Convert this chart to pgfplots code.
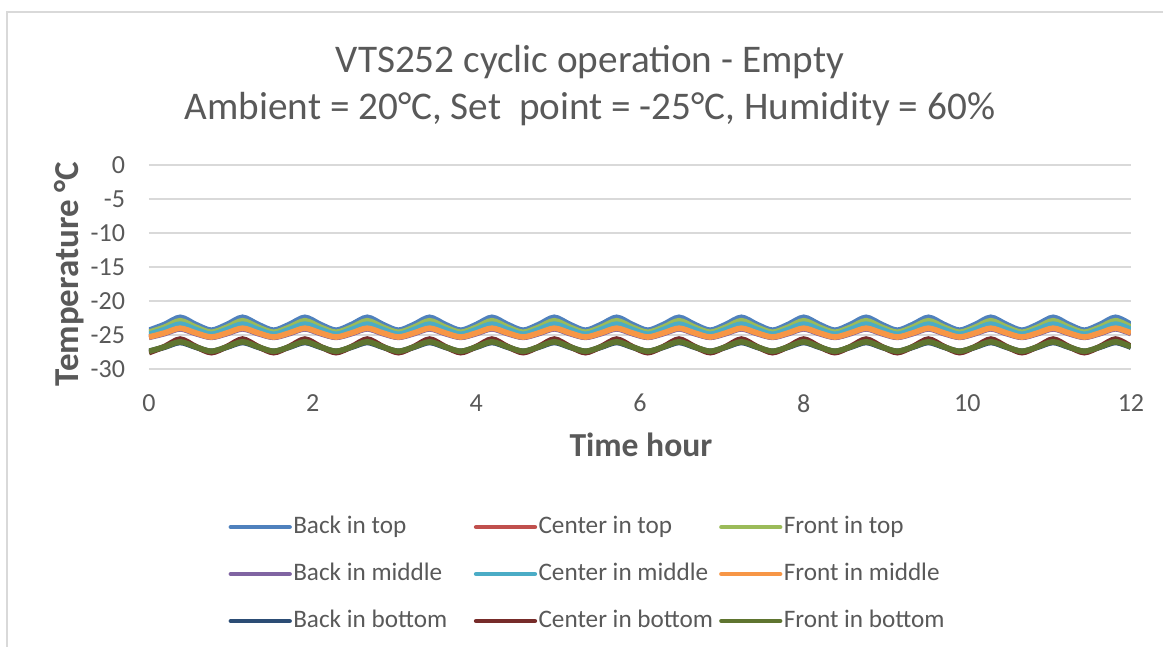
\documentclass[border=0pt]{standalone}
\usepackage{pgfplots}
\pgfplotsset{compat=1.18}
\usepackage{pgfplotstable}
\usepackage{fontspec}
\setmainfont{Carlito}

\definecolor{txt}{HTML}{595959}
\definecolor{gridc}{HTML}{D9D9D9}
\definecolor{c1}{HTML}{4F81BD}
\definecolor{c2}{HTML}{C0504D}
\definecolor{c3}{HTML}{9BBB59}
\definecolor{c4}{HTML}{8064A2}
\definecolor{c5}{HTML}{4BACC6}
\definecolor{c6}{HTML}{F79646}
\definecolor{c7}{HTML}{2C4D75}
\definecolor{c8}{HTML}{772C2A}
\definecolor{c9}{HTML}{5F7530}

% time in hours, temperatures in degC
\pgfplotstableread{
t      bt     ct     ft     bm     cm     fm     bb     cb     fb
0.000  -24.30 -25.30 -24.60 -25.35 -24.90 -25.30 -27.40 -27.60 -27.40
0.190  -23.45 -24.70 -23.85 -24.80 -24.20 -24.70 -26.80 -26.70 -26.75
0.381  -22.40 -24.00 -22.90 -24.10 -23.40 -24.00 -26.10 -25.60 -26.00
0.572  -23.45 -24.70 -23.85 -24.80 -24.20 -24.70 -26.80 -26.70 -26.75
0.762  -24.30 -25.30 -24.60 -25.35 -24.90 -25.30 -27.40 -27.60 -27.40
0.953  -23.45 -24.70 -23.85 -24.80 -24.20 -24.70 -26.80 -26.70 -26.75
1.143  -22.40 -24.00 -22.90 -24.10 -23.40 -24.00 -26.10 -25.60 -26.00
1.334  -23.45 -24.70 -23.85 -24.80 -24.20 -24.70 -26.80 -26.70 -26.75
1.524  -24.30 -25.30 -24.60 -25.35 -24.90 -25.30 -27.40 -27.60 -27.40
1.715  -23.45 -24.70 -23.85 -24.80 -24.20 -24.70 -26.80 -26.70 -26.75
1.905  -22.40 -24.00 -22.90 -24.10 -23.40 -24.00 -26.10 -25.60 -26.00
2.096  -23.45 -24.70 -23.85 -24.80 -24.20 -24.70 -26.80 -26.70 -26.75
2.286  -24.30 -25.30 -24.60 -25.35 -24.90 -25.30 -27.40 -27.60 -27.40
2.477  -23.45 -24.70 -23.85 -24.80 -24.20 -24.70 -26.80 -26.70 -26.75
2.667  -22.40 -24.00 -22.90 -24.10 -23.40 -24.00 -26.10 -25.60 -26.00
2.858  -23.45 -24.70 -23.85 -24.80 -24.20 -24.70 -26.80 -26.70 -26.75
3.048  -24.30 -25.30 -24.60 -25.35 -24.90 -25.30 -27.40 -27.60 -27.40
3.239  -23.45 -24.70 -23.85 -24.80 -24.20 -24.70 -26.80 -26.70 -26.75
3.429  -22.40 -24.00 -22.90 -24.10 -23.40 -24.00 -26.10 -25.60 -26.00
3.620  -23.45 -24.70 -23.85 -24.80 -24.20 -24.70 -26.80 -26.70 -26.75
3.810  -24.30 -25.30 -24.60 -25.35 -24.90 -25.30 -27.40 -27.60 -27.40
4.001  -23.45 -24.70 -23.85 -24.80 -24.20 -24.70 -26.80 -26.70 -26.75
4.191  -22.40 -24.00 -22.90 -24.10 -23.40 -24.00 -26.10 -25.60 -26.00
4.382  -23.45 -24.70 -23.85 -24.80 -24.20 -24.70 -26.80 -26.70 -26.75
4.572  -24.30 -25.30 -24.60 -25.35 -24.90 -25.30 -27.40 -27.60 -27.40
4.763  -23.45 -24.70 -23.85 -24.80 -24.20 -24.70 -26.80 -26.70 -26.75
4.953  -22.40 -24.00 -22.90 -24.10 -23.40 -24.00 -26.10 -25.60 -26.00
5.144  -23.45 -24.70 -23.85 -24.80 -24.20 -24.70 -26.80 -26.70 -26.75
5.334  -24.30 -25.30 -24.60 -25.35 -24.90 -25.30 -27.40 -27.60 -27.40
5.525  -23.45 -24.70 -23.85 -24.80 -24.20 -24.70 -26.80 -26.70 -26.75
5.715  -22.40 -24.00 -22.90 -24.10 -23.40 -24.00 -26.10 -25.60 -26.00
5.906  -23.45 -24.70 -23.85 -24.80 -24.20 -24.70 -26.80 -26.70 -26.75
6.096  -24.30 -25.30 -24.60 -25.35 -24.90 -25.30 -27.40 -27.60 -27.40
6.287  -23.45 -24.70 -23.85 -24.80 -24.20 -24.70 -26.80 -26.70 -26.75
6.477  -22.40 -24.00 -22.90 -24.10 -23.40 -24.00 -26.10 -25.60 -26.00
6.668  -23.45 -24.70 -23.85 -24.80 -24.20 -24.70 -26.80 -26.70 -26.75
6.858  -24.30 -25.30 -24.60 -25.35 -24.90 -25.30 -27.40 -27.60 -27.40
7.049  -23.45 -24.70 -23.85 -24.80 -24.20 -24.70 -26.80 -26.70 -26.75
7.239  -22.40 -24.00 -22.90 -24.10 -23.40 -24.00 -26.10 -25.60 -26.00
7.430  -23.45 -24.70 -23.85 -24.80 -24.20 -24.70 -26.80 -26.70 -26.75
7.620  -24.30 -25.30 -24.60 -25.35 -24.90 -25.30 -27.40 -27.60 -27.40
7.811  -23.45 -24.70 -23.85 -24.80 -24.20 -24.70 -26.80 -26.70 -26.75
8.001  -22.40 -24.00 -22.90 -24.10 -23.40 -24.00 -26.10 -25.60 -26.00
8.192  -23.45 -24.70 -23.85 -24.80 -24.20 -24.70 -26.80 -26.70 -26.75
8.382  -24.30 -25.30 -24.60 -25.35 -24.90 -25.30 -27.40 -27.60 -27.40
8.573  -23.45 -24.70 -23.85 -24.80 -24.20 -24.70 -26.80 -26.70 -26.75
8.763  -22.40 -24.00 -22.90 -24.10 -23.40 -24.00 -26.10 -25.60 -26.00
8.954  -23.45 -24.70 -23.85 -24.80 -24.20 -24.70 -26.80 -26.70 -26.75
9.144  -24.30 -25.30 -24.60 -25.35 -24.90 -25.30 -27.40 -27.60 -27.40
9.335  -23.45 -24.70 -23.85 -24.80 -24.20 -24.70 -26.80 -26.70 -26.75
9.525  -22.40 -24.00 -22.90 -24.10 -23.40 -24.00 -26.10 -25.60 -26.00
9.716  -23.45 -24.70 -23.85 -24.80 -24.20 -24.70 -26.80 -26.70 -26.75
9.906  -24.30 -25.30 -24.60 -25.35 -24.90 -25.30 -27.40 -27.60 -27.40
10.097 -23.45 -24.70 -23.85 -24.80 -24.20 -24.70 -26.80 -26.70 -26.75
10.287 -22.40 -24.00 -22.90 -24.10 -23.40 -24.00 -26.10 -25.60 -26.00
10.478 -23.45 -24.70 -23.85 -24.80 -24.20 -24.70 -26.80 -26.70 -26.75
10.668 -24.30 -25.30 -24.60 -25.35 -24.90 -25.30 -27.40 -27.60 -27.40
10.859 -23.45 -24.70 -23.85 -24.80 -24.20 -24.70 -26.80 -26.70 -26.75
11.049 -22.40 -24.00 -22.90 -24.10 -23.40 -24.00 -26.10 -25.60 -26.00
11.240 -23.45 -24.70 -23.85 -24.80 -24.20 -24.70 -26.80 -26.70 -26.75
11.430 -24.30 -25.30 -24.60 -25.35 -24.90 -25.30 -27.40 -27.60 -27.40
11.621 -23.45 -24.70 -23.85 -24.80 -24.20 -24.70 -26.80 -26.70 -26.75
11.811 -22.40 -24.00 -22.90 -24.10 -23.40 -24.00 -26.10 -25.60 -26.00
12.000 -23.45 -24.70 -23.85 -24.80 -24.20 -24.70 -26.80 -26.70 -26.75
}\cycdata

\begin{document}
\begin{tikzpicture}
\useasboundingbox (0,0) rectangle (415.36pt,231.07pt);
% chart area frame
\draw[gridc, line width=0.6pt] (2.5pt,-20pt) -- (2.5pt,226.8pt) -- (440pt,226.8pt);

\node[text=txt, font=\fontsize{14}{16.8}\selectfont] at (210.7pt,209.0pt) {VTS252 cyclic operation - Empty};
\node[text=txt, font=\fontsize{14}{16.8}\selectfont] at (210.7pt,192.0pt) {Ambient = 20°C, Set\ \ point = -25°C, Humidity = 60\%};

\begin{axis}[
    at={(53.21pt,99.29pt)}, anchor=south west,
    scale only axis,
    width=350.71pt, height=72.86pt,
    xmin=0, xmax=12, ymin=-30, ymax=0,
    xtick={0,2,...,12}, ytick={-30,-25,...,0},
    axis line style={draw=none},
    major tick length=0pt,
    ymajorgrids,
    grid style={gridc, line width=0.7pt},
    /pgf/number format/assume math mode=true,
    tick label style={font=\fontsize{9.3}{11}\selectfont, text=txt},
    xticklabel style={yshift=-5.5pt},
    yticklabel style={xshift=-5pt},
    every axis plot/.append style={line width=2pt, smooth},
    legend columns=3,
    legend style={at={(0.0805,-1.005)}, anchor=west, draw=none, fill=none,
        font=\fontsize{9}{10.8}\selectfont, text=txt,
        inner sep=0pt, row sep=8pt,
        nodes={inner sep=0.5pt}, cells={anchor=west}},
    legend image code/.code={\draw[#1, line width=1.6pt, line cap=round] (0pt,0pt) -- (21pt,0pt);},
]
\addplot[c1] table[x=t, y=bt] {\cycdata};
\addlegendentry{\makebox[64pt][l]{Back in top}}
\addplot[c2] table[x=t, y=ct] {\cycdata};
\addlegendentry{\makebox[64pt][l]{Center in top}}
\addplot[c3] table[x=t, y=ft] {\cycdata};
\addlegendentry{\makebox[64pt][l]{Front in top}}
\addplot[c4] table[x=t, y=bm] {\cycdata};
\addlegendentry{\makebox[64pt][l]{Back in middle}}
\addplot[c5] table[x=t, y=cm] {\cycdata};
\addlegendentry{\makebox[64pt][l]{Center in middle}}
\addplot[c6] table[x=t, y=fm] {\cycdata};
\addlegendentry{\makebox[64pt][l]{Front in middle}}
\addplot[c7] table[x=t, y=bb] {\cycdata};
\addlegendentry{\makebox[64pt][l]{Back in bottom}}
\addplot[c8] table[x=t, y=cb] {\cycdata};
\addlegendentry{\makebox[64pt][l]{Center in bottom}}
\addplot[c9] table[x=t, y=fb] {\cycdata};
\addlegendentry{\makebox[64pt][l]{Front in bottom}}
\end{axis}

\node[text=txt, font=\bfseries\fontsize{12.5}{15}\selectfont, rotate=90] at (24.6pt,133.2pt) {Temperature °C};
\node[text=txt, font=\bfseries\fontsize{12}{14.4}\selectfont] at (228.9pt,72.1pt) {Time hour};
\end{tikzpicture}
\end{document}
